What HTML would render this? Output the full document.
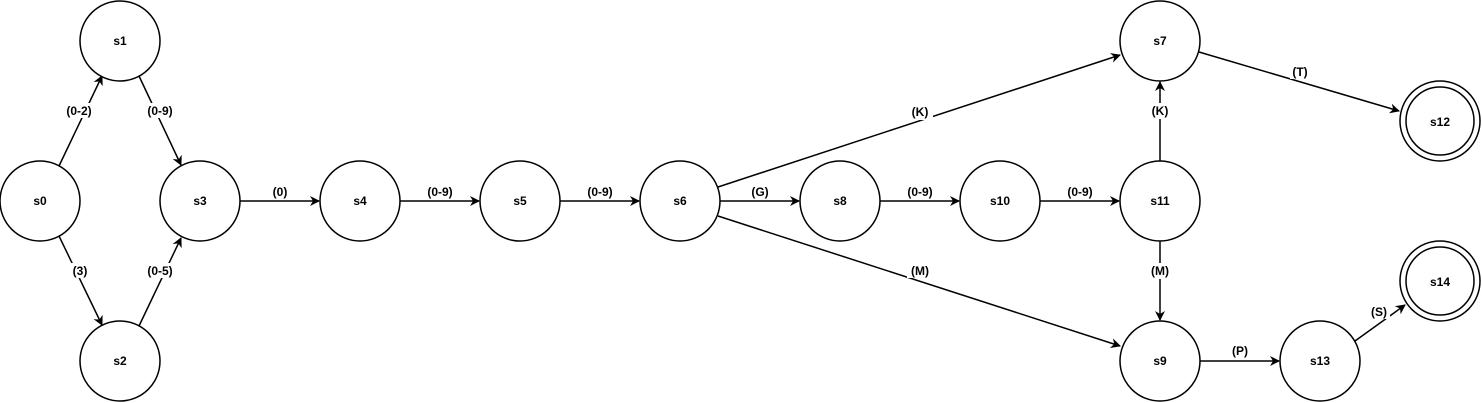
<!DOCTYPE html>
<html><head><style>body{margin:0;background:#fff}svg{display:block}text{font-family:"Liberation Sans",Arial,sans-serif;font-size:12px;font-weight:bold;fill:#000}</style></head>
<body>
<svg width="1482" height="403" viewBox="0 0 1482 403" xmlns="http://www.w3.org/2000/svg">
<defs><marker id="a" viewBox="0 0 10 10" refX="9" refY="5" markerWidth="10" markerHeight="10" markerUnits="userSpaceOnUse" orient="auto"><path d="M0,0 L10,5 L0,10 L3,5 Z" fill="#000"/></marker></defs>
<g stroke="#000" stroke-width="1.5" fill="none" marker-end="url(#a)">
<line x1="59" y1="166" x2="102" y2="76"/>
<line x1="139" y1="76" x2="181" y2="165"/>
<line x1="59" y1="236" x2="102" y2="325"/>
<line x1="139" y1="326" x2="181" y2="238"/>
<line x1="240" y1="201" x2="319" y2="201"/>
<line x1="400" y1="201" x2="479" y2="201"/>
<line x1="560" y1="201" x2="639" y2="201"/>
<line x1="720" y1="201" x2="799" y2="201"/>
<line x1="880" y1="201" x2="959" y2="201"/>
<line x1="1040" y1="201" x2="1119" y2="201"/>
<line x1="718" y1="187" x2="1120" y2="55"/>
<line x1="718" y1="216" x2="1120" y2="346"/>
<line x1="1160" y1="161" x2="1160" y2="82"/>
<line x1="1160" y1="241" x2="1160" y2="320"/>
<line x1="1199" y1="52" x2="1399" y2="111"/>
<line x1="1200" y1="361" x2="1279" y2="361"/>
<line x1="1355" y1="341" x2="1405" y2="305"/>
</g>
<g fill="#fff">
<rect x="907" y="104" width="26" height="16"/><rect x="907" y="262" width="26" height="16"/>
<rect x="1148" y="103" width="24" height="16"/><rect x="1146" y="263" width="28" height="16"/>
<rect x="1290" y="64" width="20" height="15"/><rect x="1368" y="304" width="22" height="15"/>
<rect x="62" y="103" width="34" height="15"/><rect x="143" y="103" width="34" height="15"/>
<rect x="69" y="263" width="22" height="15"/><rect x="143" y="263" width="34" height="15"/>
</g>
<g fill="#fff" stroke="#000" stroke-width="1.5">
<circle cx="40" cy="201" r="40"/><circle cx="120" cy="41" r="40"/><circle cx="120" cy="361" r="40"/>
<circle cx="200" cy="201" r="40"/><circle cx="360" cy="201" r="40"/><circle cx="520" cy="201" r="40"/>
<circle cx="680" cy="201" r="40"/><circle cx="840" cy="201" r="40"/><circle cx="1000" cy="201" r="40"/>
<circle cx="1160" cy="201" r="40"/><circle cx="1160" cy="41" r="40"/><circle cx="1160" cy="361" r="40"/>
<circle cx="1320" cy="361" r="40"/>
<circle cx="1440" cy="121" r="40"/><circle cx="1440" cy="121" r="34"/>
<circle cx="1440" cy="281" r="40"/><circle cx="1440" cy="281" r="34"/>
</g>
<g text-anchor="middle">
<text x="40" y="205">s0</text><text x="120" y="45">s1</text><text x="120" y="365">s2</text>
<text x="200" y="205">s3</text><text x="360" y="205">s4</text><text x="520" y="205">s5</text>
<text x="680" y="205">s6</text><text x="840" y="205">s8</text><text x="1000" y="205">s10</text>
<text x="1160" y="205">s11</text><text x="1160" y="45">s7</text><text x="1160" y="365">s9</text>
<text x="1320" y="365">s13</text><text x="1440" y="126">s12</text><text x="1440" y="286">s14</text>
<text x="79" y="115">(0-2)</text><text x="160" y="115">(0-9)</text>
<text x="80" y="275">(3)</text><text x="160" y="275">(0-5)</text>
<text x="280" y="196">(0)</text><text x="440" y="196">(0-9)</text><text x="600" y="196">(0-9)</text>
<text x="760" y="196">(G)</text><text x="920" y="196">(0-9)</text><text x="1080" y="196">(0-9)</text>
<text x="920" y="116">(K)</text><text x="920" y="275">(M)</text>
<text x="1160" y="115">(K)</text><text x="1160" y="275">(M)</text>
<text x="1300" y="76">(T)</text><text x="1240" y="355">(P)</text><text x="1379" y="316">(S)</text>
</g>
</svg>
</body></html>
